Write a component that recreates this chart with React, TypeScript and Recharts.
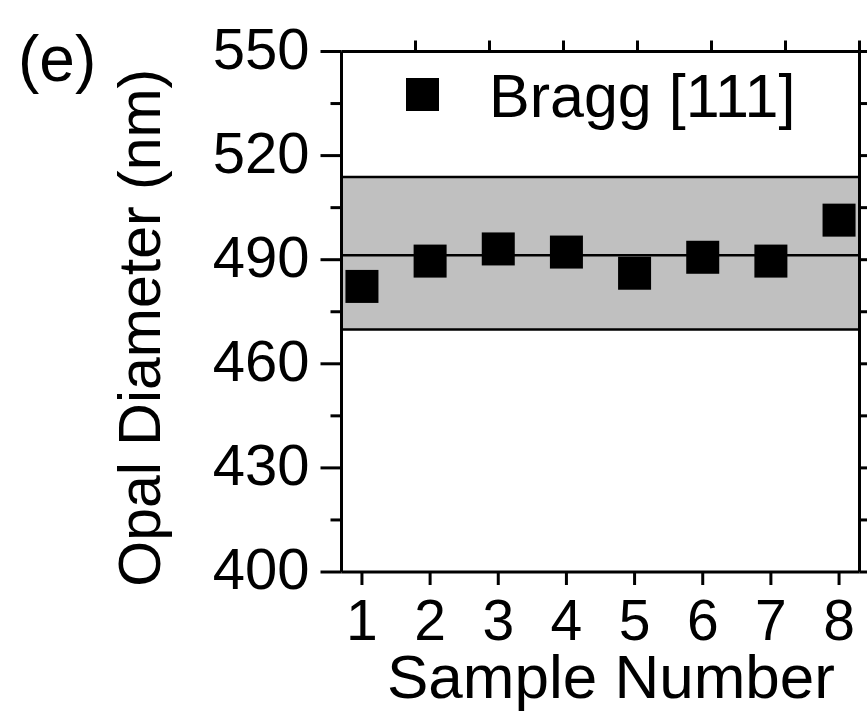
import React from 'react';
import {
  ComposedChart,
  Scatter,
  XAxis,
  YAxis,
  ReferenceArea,
  ReferenceLine,
  Legend,
} from 'recharts';

const sampleNumbers = [1, 2, 3, 4, 5, 6, 7, 8];
const braggDiameters = [482.3, 489.6, 493.1, 492.2, 486.1, 490.7, 489.6, 501.4];
const seriesName = 'Bragg [111]';
const yMajorTicks = [400, 430, 460, 490, 520, 550];
const yMinorTicks = [415, 445, 475, 505, 535];
const xTicks = [1, 2, 3, 4, 5, 6, 7, 8];
const bandLow = 469.9;
const bandHigh = 513.8;
const meanDiameter = 491.3;
const yTitle = 'Opal Diameter (nm)';
const xTitle = 'Sample Number';
const panelLabel = '(e)';

const data = sampleNumbers.map((s, i) => ({ sample: s, diameter: braggDiameters[i] }));
const yAllTicks = [...yMajorTicks, ...yMinorTicks].sort((a, b) => a - b);

const FONT = "'Liberation Sans', Arial, sans-serif";
const AXW = 3;

const LeftTick = (props: any) => {
  const { x, y, payload } = props;
  const major = yMajorTicks.includes(payload.value);
  return (
    <g>
      <line x1={x - (major ? 21 : 11)} x2={x} y1={y} y2={y} stroke="#000" strokeWidth={AXW} />
      {major && (
        <text x={x - 32} y={y + 17} textAnchor="end" fontSize={58} fontFamily={FONT} fill="#000">
          {payload.value}
        </text>
      )}
    </g>
  );
};

const RightTick = (props: any) => {
  const { x, y, payload } = props;
  const major = yMajorTicks.includes(payload.value);
  return <line x1={x} x2={x + (major ? 21 : 11)} y1={y} y2={y} stroke="#000" strokeWidth={AXW} />;
};

const BottomTick = (props: any) => {
  const { x, y, payload } = props;
  return (
    <g>
      <line x1={x} x2={x} y1={y} y2={y + 13} stroke="#000" strokeWidth={AXW} />
      <text x={x} y={y + 68} textAnchor="middle" fontSize={57} fontFamily={FONT} fill="#000">
        {payload.value}
      </text>
    </g>
  );
};

const TopTick = (props: any) => {
  const { x, y } = props;
  return <line x1={x} x2={x} y1={y} y2={y - 11} stroke="#000" strokeWidth={AXW} />;
};

const SquareShape = (props: any) => {
  const { cx, cy } = props;
  if (cx == null || cy == null) return null;
  return <rect x={cx - 16.5} y={cy - 16.5} width={33} height={33} fill="#000" />;
};

const YTitle = (props: any) => {
  const vb = props.viewBox || { x: 0, y: 51.5, width: 341.5, height: 520.5 };
  const cy = vb.y + vb.height / 2 + 16;
  return (
    <g>
      <text
        transform={`translate(${vb.x + 160},${cy}) rotate(-90)`}
        textAnchor="middle"
        fontSize={59}
        fontFamily={FONT}
        fill="#000"
      >
        {yTitle}
      </text>
      <text x={vb.x + 18} y={81} fontSize={64} fontFamily={FONT} fill="#000">
        {panelLabel}
      </text>
    </g>
  );
};

const XTitle = (props: any) => {
  const vb = props.viewBox || { x: 341.5, y: 572, width: 518, height: 140 };
  return (
    <text
      x={vb.x + vb.width / 2 + 10.5}
      y={vb.y + 126}
      textAnchor="middle"
      fontSize={62}
      fontFamily={FONT}
      fill="#000"
    >
      {xTitle}
    </text>
  );
};

const LegendContent = (props: any) => {
  const name = props.payload && props.payload[0] ? props.payload[0].value : seriesName;
  return (
    <div style={{ position: 'relative', width: 867, height: 0 }}>
      <div style={{ position: 'absolute', left: 406, top: 78, width: 33, height: 33, background: '#000' }} />
      <span
        style={{
          position: 'absolute',
          left: 489,
          top: 66,
          fontSize: 61,
          lineHeight: '61px',
          fontFamily: FONT,
          whiteSpace: 'nowrap',
          color: '#000',
        }}
      >
        {name}
      </span>
    </div>
  );
};

export default function App() {
  return (
    <div
      style={{
        position: 'absolute',
        left: 0,
        top: 0,
        width: 867,
        height: 712,
        overflow: 'hidden',
        background: '#fff',
      }}
    >
      <ComposedChart width={900} height={712} data={data} margin={{ top: 0, right: 0, bottom: 0, left: 0 }}>
        <XAxis
          xAxisId="bottom"
          dataKey="sample"
          type="number"
          orientation="bottom"
          domain={[0.7, 8.3]}
          ticks={xTicks}
          interval={0}
          height={140}
          tickSize={0}
          tickMargin={0}
          tickLine={false}
          tick={<BottomTick />}
          axisLine={{ stroke: '#000', strokeWidth: AXW }}
          allowDataOverflow
          label={<XTitle />}
        />
        <XAxis
          xAxisId="top"
          type="number"
          orientation="top"
          domain={[0.91, 8.094]}
          ticks={xTicks}
          interval={0}
          height={51.5}
          tickSize={0}
          tickMargin={0}
          tickLine={false}
          tick={<TopTick />}
          axisLine={{ stroke: '#000', strokeWidth: AXW }}
          allowDataOverflow
        />
        <YAxis
          yAxisId="left"
          type="number"
          orientation="left"
          domain={[400, 550]}
          ticks={yAllTicks}
          interval={0}
          width={341.5}
          tickSize={0}
          tickMargin={0}
          tickLine={false}
          tick={<LeftTick />}
          axisLine={{ stroke: '#000', strokeWidth: AXW }}
          allowDataOverflow
          label={<YTitle />}
        />
        <YAxis
          yAxisId="right"
          type="number"
          orientation="right"
          domain={[400, 550]}
          ticks={yAllTicks}
          interval={0}
          width={40.5}
          tickSize={0}
          tickMargin={0}
          tickLine={false}
          tick={<RightTick />}
          axisLine={{ stroke: '#000', strokeWidth: AXW }}
          allowDataOverflow
        />
        <ReferenceArea
          xAxisId="bottom"
          yAxisId="left"
          y1={bandLow}
          y2={bandHigh}
          fill="#c0c0c0"
          fillOpacity={1}
          stroke="#000"
          strokeWidth={2.5}
        />
        <ReferenceLine xAxisId="bottom" yAxisId="left" y={meanDiameter} stroke="#000" strokeWidth={2.5} />
        <Scatter
          xAxisId="bottom"
          yAxisId="left"
          name={seriesName}
          dataKey="diameter"
          fill="#000"
          shape={<SquareShape />}
          isAnimationActive={false}
        />
        <Legend
          content={<LegendContent />}
          wrapperStyle={{ position: 'absolute', left: 0, top: 0, width: 867, height: 0 }}
        />
      </ComposedChart>
    </div>
  );
}
